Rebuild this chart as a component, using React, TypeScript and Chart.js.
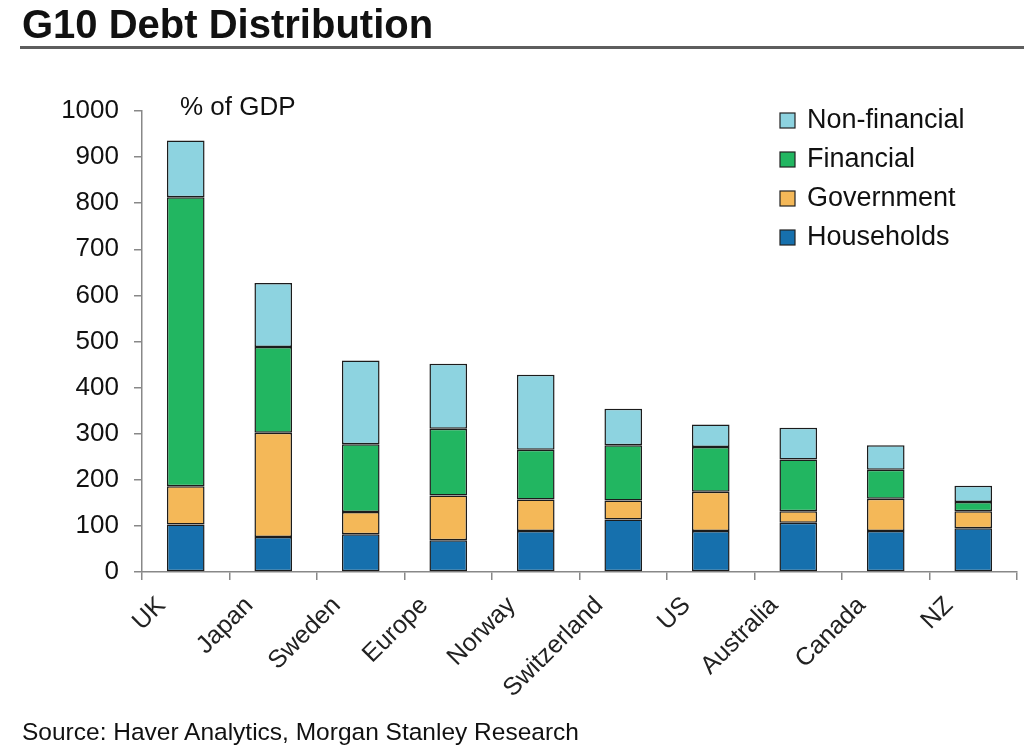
import { useEffect, useRef } from 'react';
import { Chart, registerables, Plugin } from 'chart.js';

Chart.register(...registerables);

const countries = ['UK', 'Japan', 'Sweden', 'Europe', 'Norway', 'Switzerland', 'US', 'Australia', 'Canada', 'NZ'];
const households = [103, 76, 82, 69, 89, 114, 89, 107, 89, 95];
const government = [83, 226, 48, 97, 68, 41, 85, 25, 70, 37];
const financial = [627, 186, 147, 145, 108, 120, 97, 112, 63, 20];
const nonFinancial = [123, 139, 182, 141, 163, 79, 49, 69, 53, 35];
const yTicks = [0, 100, 200, 300, 400, 500, 600, 700, 800, 900, 1000];

const FONT = '"Liberation Sans", Arial, sans-serif';

// "% of GDP" unit label + legend inside the plot, top right
const overlayPlugin: Plugin = {
  id: 'overlay',
  afterDraw(chart) {
    const { ctx, chartArea } = chart;
    ctx.save();
    ctx.fillStyle = '#111';
    ctx.font = `26px ${FONT}`;
    ctx.textBaseline = 'alphabetic';
    ctx.textAlign = 'left';
    ctx.fillText('% of GDP', chartArea.left + 38, chartArea.top + 4);

    const items = [...chart.data.datasets].reverse();
    ctx.font = `27px ${FONT}`;
    ctx.textBaseline = 'middle';
    items.forEach((ds, i) => {
      const y = chartArea.top + 10 + i * 39;
      const x = 780;
      ctx.fillStyle = ds.backgroundColor as string;
      ctx.fillRect(x, y - 8, 15, 15);
      ctx.strokeStyle = '#222';
      ctx.lineWidth = 1.2;
      ctx.strokeRect(x, y - 8, 15, 15);
      ctx.fillStyle = '#111';
      ctx.fillText(ds.label as string, 807, y);
    });
    ctx.restore();
  },
};

const DebtChart = () => {
  const canvasRef = useRef<HTMLCanvasElement>(null);
  const chartRef = useRef<Chart | null>(null);

  useEffect(() => {
    if (!canvasRef.current) return;
    const common = { borderColor: '#1c1c1c', borderWidth: 1.5, borderSkipped: false as const };
    chartRef.current = new Chart(canvasRef.current, {
      type: 'bar',
      data: {
        labels: countries,
        datasets: [
          { label: 'Households', data: households, backgroundColor: '#1670ad', ...common },
          { label: 'Government', data: government, backgroundColor: '#f4b858', ...common },
          { label: 'Financial', data: financial, backgroundColor: '#22b661', ...common },
          { label: 'Non-financial', data: nonFinancial, backgroundColor: '#8dd3e0', ...common },
        ],
      },
      options: {
        animation: false,
        responsive: true,
        maintainAspectRatio: false,
        layout: { padding: { left: 0, top: 111, right: 7, bottom: 0 } },
        datasets: { bar: { categoryPercentage: 0.43, barPercentage: 1 } },
        plugins: { legend: { display: false }, tooltip: { enabled: false } },
        scales: {
          x: {
            stacked: true,
            afterFit: (scale) => { scale.height = 174; },
            grid: { drawOnChartArea: false, tickLength: 8, color: '#888', lineWidth: 1.5 },
            border: { color: '#888', width: 1.5 },
            ticks: {
              autoSkip: false,
              minRotation: 45,
              maxRotation: 45,
              labelOffset: -24,
              padding: 11,
              color: '#222',
              font: { family: FONT, size: 25 },
            },
          },
          y: {
            stacked: true,
            min: 0,
            max: 1000,
            afterFit: (scale) => { scale.width = 142; },
            afterBuildTicks: (scale) => { scale.ticks = yTicks.map((v) => ({ value: v })); },
            grid: { drawOnChartArea: false, tickLength: 8, color: '#888', lineWidth: 1.5 },
            border: { color: '#888', width: 1.5 },
            ticks: {
              padding: 15,
              color: '#111',
              font: { family: FONT, size: 26 },
              callback: (v) => String(v),
            },
          },
        },
      },
      plugins: [overlayPlugin],
    });
    return () => {
      chartRef.current?.destroy();
      chartRef.current = null;
    };
  }, []);

  return <canvas ref={canvasRef} />;
};

const App = () => {
  useEffect(() => {
    document.body.style.margin = '0';
    document.body.style.overflow = 'hidden';
  }, []);

  return (
    <div style={{ position: 'relative', width: 1024, height: 746, background: '#fff', overflow: 'hidden' }}>
      <div style={{ position: 'absolute', inset: 0 }}>
        <DebtChart />
      </div>
      <div
        style={{
          position: 'absolute', left: 22, top: 4, font: `bold 40px ${FONT}`, lineHeight: '40px',
          color: '#111', whiteSpace: 'nowrap',
        }}
      >
        G10 Debt Distribution
      </div>
      <div style={{ position: 'absolute', left: 20, top: 46, width: 1004, height: 3, background: '#5e5e5e' }} />
      <div
        style={{
          position: 'absolute', left: 22, top: 720, font: `24.5px ${FONT}`, lineHeight: '24px',
          color: '#111', whiteSpace: 'nowrap',
        }}
      >
        Source: Haver Analytics, Morgan Stanley Research
      </div>
    </div>
  );
};

export default App;
